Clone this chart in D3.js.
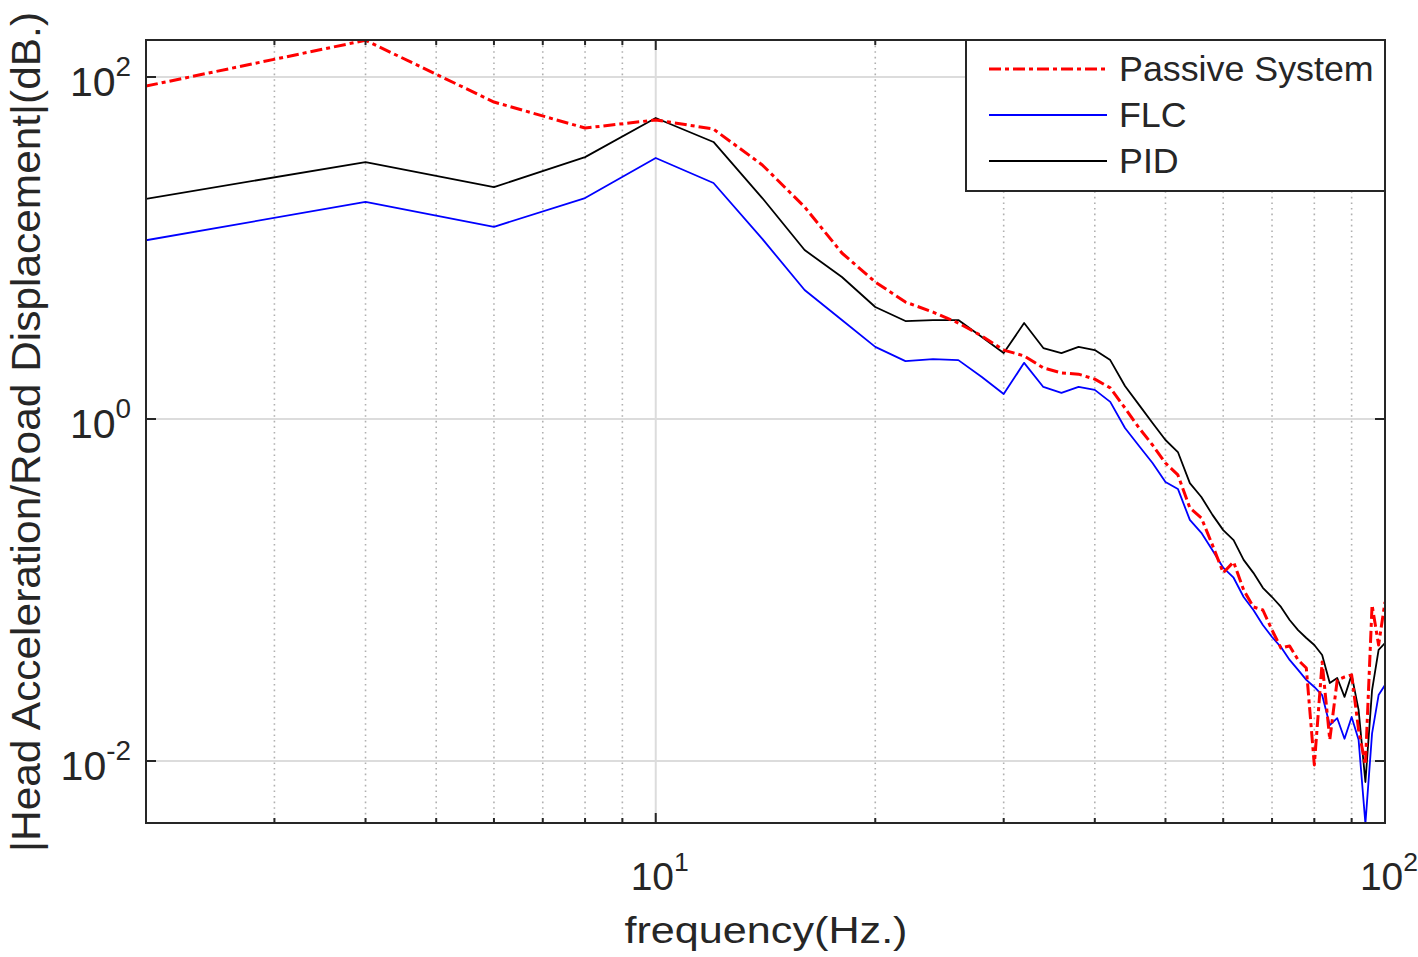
<!DOCTYPE html>
<html>
<head>
<meta charset="utf-8">
<script src="https://cdn.jsdelivr.net/npm/d3@7"></script>
<style>
  body { margin: 0; background: #fff; }
  text { font-family: "Liberation Sans", Arial, sans-serif; fill: #262626; }
</style>
</head>
<body>
<div class="chart"></div>
<script>
// frequency points (Hz.)
var freq = [2,4,6,8,10,12,14,16,18,20,22,24,26,28,30,32,34,36,38,40,
  42,44,46,48,50,52,54,56,58,60,62,64,66,68,70,72,74,76,78,80,
  82,84,86,88,90,92,94,96,98,100];

var passive = [88.5,164,71.4,50.3,56.1,49.6,30.6,17.4,9.35,6.33,4.83,4.22,3.64,3.06,2.53,2.34,1.99,1.86,1.83,1.71,
  1.52,1.16,0.886,0.705,0.553,0.471,0.302,0.264,0.183,0.126,0.146,0.100,0.0796,0.0764,0.0583,0.0458,0.0471,0.0390,0.0350,0.00948,
  0.0379,0.0133,0.0298,0.0310,0.0319,0.0152,0.0095,0.0817,0.0477,0.0851];

var flc = [11.1,18.6,13.3,19.6,33.6,24.0,11.3,5.68,3.79,2.64,2.18,2.24,2.21,1.76,1.40,2.13,1.54,1.42,1.54,1.48,
  1.26,0.886,0.695,0.553,0.428,0.390,0.257,0.216,0.171,0.135,0.118,0.0910,0.0764,0.0624,0.0531,0.0464,0.0390,0.0341,0.0298,0.0271,
  0.0243,0.0162,0.0178,0.0135,0.0181,0.0133,0.0043,0.0145,0.0243,0.0278];

var pid = [19.4,31.8,22.7,34.0,57.6,41.7,19.6,9.73,6.77,4.52,3.74,3.79,3.79,3.02,2.43,3.64,2.60,2.43,2.64,2.53,
  2.21,1.56,1.21,0.948,0.754,0.641,0.422,0.350,0.275,0.224,0.196,0.150,0.126,0.103,0.0910,0.0796,0.0668,0.0583,0.0524,0.0477,
  0.0417,0.0286,0.0306,0.0237,0.0319,0.0199,0.00754,0.0260,0.0446,0.0490];

var seriesNames = ["Passive System", "FLC", "PID"];
var xMajor = [10, 100];
var xMinor = [2,3,4,5,6,7,8,9,20,30,40,50,60,70,80,90];
var yMajor = [0.01, 1, 100];

var svgWidth = 1418;
var svgHeight = 957;
var margin = { top: 40, right: 33, bottom: 134, left: 146 };
var width = svgWidth - margin.left - margin.right;
var height = svgHeight - margin.top - margin.bottom;

var svg = d3.select(".chart")
  .append("svg")
  .attr("width", svgWidth)
  .attr("height", svgHeight);

var chartGroup = svg.append("g")
  .attr("transform", `translate(${margin.left}, ${margin.top})`);

var x = d3.scaleLog().domain([2, 100]).range([0, width]);
var y = d3.scaleLog().domain([0.00434, 164.6]).range([height, 0]);

svg.append("defs").append("clipPath").attr("id", "plotclip")
  .append("rect").attr("width", width).attr("height", height);

// grid: dotted minor verticals, solid major lines
chartGroup.selectAll(".minorgrid")
  .data(xMinor)
  .enter()
  .append("line")
  .attr("x1", d => x(d)).attr("x2", d => x(d))
  .attr("y1", 0).attr("y2", height)
  .attr("stroke", "#b0b0b0")
  .attr("stroke-width", 1.6)
  .attr("stroke-dasharray", "1.6,4");

chartGroup.selectAll(".xgrid")
  .data(xMajor)
  .enter()
  .append("line")
  .attr("x1", d => x(d)).attr("x2", d => x(d))
  .attr("y1", 0).attr("y2", height)
  .attr("stroke", "#dcdcdc")
  .attr("stroke-width", 2);

chartGroup.selectAll(".ygrid")
  .data(yMajor)
  .enter()
  .append("line")
  .attr("x1", 0).attr("x2", width)
  .attr("y1", d => y(d)).attr("y2", d => y(d))
  .attr("stroke", "#dcdcdc")
  .attr("stroke-width", 2);

// series
var series = [
  { name: seriesNames[0], values: passive, color: "#ff0000", width: 3, dash: "12,4,4,4" },
  { name: seriesNames[1], values: flc, color: "#0000ff", width: 1.8, dash: null },
  { name: seriesNames[2], values: pid, color: "#000000", width: 1.8, dash: null }
];

var line = d3.line()
  .x(d => x(d[0]))
  .y(d => y(d[1]));

var lineGroup = chartGroup.append("g").attr("clip-path", "url(#plotclip)");
// draw PID and FLC first, passive on top
[series[2], series[1], series[0]].forEach(function(s) {
  lineGroup.append("path")
    .datum(freq.map((f, i) => [f, s.values[i]]))
    .attr("fill", "none")
    .attr("stroke", s.color)
    .attr("stroke-width", s.width)
    .attr("stroke-linejoin", "round")
    .attr("stroke-dasharray", s.dash)
    .attr("d", line);
});

// axes box with inward ticks
var axisColor = "#262626";
chartGroup.append("rect")
  .attr("width", width).attr("height", height)
  .attr("fill", "none")
  .attr("stroke", axisColor)
  .attr("stroke-width", 2);

function xTicks(vals, len) {
  chartGroup.selectAll(null).data(vals).enter().append("line")
    .attr("x1", d => x(d)).attr("x2", d => x(d))
    .attr("y1", height).attr("y2", height - len)
    .attr("stroke", axisColor).attr("stroke-width", 2);
  chartGroup.selectAll(null).data(vals).enter().append("line")
    .attr("x1", d => x(d)).attr("x2", d => x(d))
    .attr("y1", 0).attr("y2", len)
    .attr("stroke", axisColor).attr("stroke-width", 2);
}
xTicks(xMinor, 5);
xTicks(xMajor, 10);

chartGroup.selectAll(null).data(yMajor).enter().append("line")
  .attr("x1", 0).attr("x2", 10)
  .attr("y1", d => y(d)).attr("y2", d => y(d))
  .attr("stroke", axisColor).attr("stroke-width", 2);
chartGroup.selectAll(null).data(yMajor).enter().append("line")
  .attr("x1", width).attr("x2", width - 10)
  .attr("y1", d => y(d)).attr("y2", d => y(d))
  .attr("stroke", axisColor).attr("stroke-width", 2);

// tick labels as 10^n
function powLabel(sel, d, size) {
  sel.append("tspan").text("10");
  sel.append("tspan")
    .attr("dy", -size * 0.5)
    .attr("font-size", size * 0.68)
    .text(Math.round(Math.log10(d)));
}

chartGroup.selectAll(".xlab").data(xMajor).enter().append("text")
  .attr("x", d => x(d) + 4)
  .attr("y", height + 67)
  .attr("font-size", 39)
  .attr("text-anchor", "middle")
  .each(function(d) { powLabel(d3.select(this), d, 39); });

chartGroup.selectAll(".ylab").data(yMajor).enter().append("text")
  .attr("x", -15)
  .attr("y", d => y(d) + 19)
  .attr("font-size", 41)
  .attr("text-anchor", "end")
  .each(function(d) { powLabel(d3.select(this), d, 41); });

// axis labels
svg.append("text")
  .attr("x", 766)
  .attr("y", 943)
  .attr("font-size", 37)
  .attr("text-anchor", "middle")
  .attr("textLength", 283)
  .attr("lengthAdjust", "spacingAndGlyphs")
  .text("frequency(Hz.)");

svg.append("text")
  .attr("transform", "translate(40, 432) rotate(-90)")
  .attr("font-size", 41)
  .attr("text-anchor", "middle")
  .attr("textLength", 840)
  .attr("lengthAdjust", "spacingAndGlyphs")
  .text("|Head Acceleration/Road Displacement|(dB.)");

// legend
var legend = svg.append("g").attr("transform", "translate(966, 40)");
legend.append("rect")
  .attr("width", 419).attr("height", 151)
  .attr("fill", "#fff")
  .attr("stroke", axisColor)
  .attr("stroke-width", 2);

series.forEach(function(s, i) {
  var ly = 29 + i * 46;
  legend.append("line")
    .attr("x1", 23).attr("x2", 141)
    .attr("y1", ly).attr("y2", ly)
    .attr("stroke", s.color)
    .attr("stroke-width", s.width)
    .attr("stroke-dasharray", s.dash);
  legend.append("text")
    .attr("x", 153)
    .attr("y", ly + 12)
    .attr("font-size", 35.8)
    .text(s.name);
});
</script>
</body>
</html>
